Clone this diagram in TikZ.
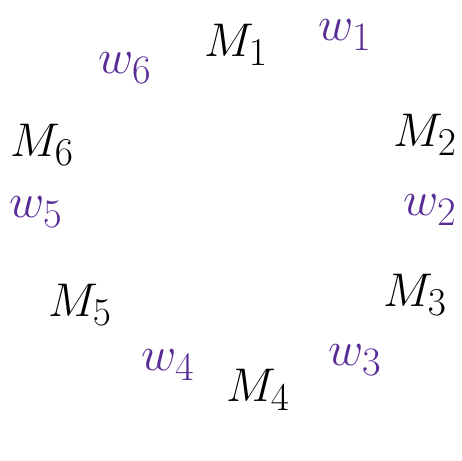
\documentclass[tikz,border=0pt]{standalone}
\usepackage{xcolor}
\definecolor{wpurple}{RGB}{88,44,150}
\tikzset{
  mlabel/.style={font=\Huge, scale=1.9, text=black, inner sep=0pt},
  wlabel/.style={font=\Huge, scale=1.95, text=wpurple, inner sep=0pt}
}
\begin{document}
\begin{tikzpicture}[x=1pt,y=-1pt]
\useasboundingbox (0,0) rectangle (462,460);

% machines
\node[mlabel] (m1) at (236,45) {$M_1$};
\node[mlabel] (m2) at (425,135) {$M_2$};
\node[mlabel] (m3) at (415,295) {$M_3$};
\node[mlabel] (m4) at (258,390) {$M_4$};
\node[mlabel] (m5) at (80,305) {$M_5$};
\node[mlabel] (m6) at (42,145) {$M_6$};

% weights
\node[wlabel] (w1) at (345,35) {$w_1$};
\node[wlabel] (w2) at (430,210) {$w_2$};
\node[wlabel] (w3) at (355,360) {$w_3$};
\node[wlabel] (w4) at (168,365) {$w_4$};
\node[wlabel] (w5) at (36,212) {$w_5$};
\node[wlabel] (w6) at (125,68) {$w_6$};
\end{tikzpicture}
\end{document}
